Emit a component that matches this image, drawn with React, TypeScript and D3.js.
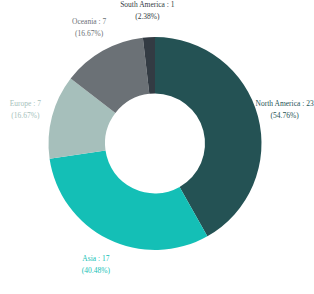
import React, { useEffect, useRef } from 'react';
import * as d3 from 'd3';

const regions = ['North America', 'Asia', 'Europe', 'Oceania', 'South America'];
const counts = [23, 17, 7, 7, 1];
const shares = ['54.76%', '40.48%', '16.67%', '16.67%', '2.38%'];
const colors = ['#245254', '#14bfb6', '#a6bfbb', '#6b7176', '#333b43'];

const App = () => {
  const ref = useRef<SVGSVGElement | null>(null);

  useEffect(() => {
    const svg = d3.select(ref.current);
    svg.selectAll('*').remove();

    const cx = 155;
    const cy = 143.5;
    const rows = regions.map((r, i) => ({ name: r, value: counts[i], share: shares[i], color: colors[i] }));

    const pie = d3.pie<any>().value(d => d.value).sort(null);
    const arc = d3.arc<any>().innerRadius(50).outerRadius(106.5);
    const labelArc = d3.arc<any>().innerRadius(134).outerRadius(134);

    const g = svg.append('g').attr('transform', `translate(${cx},${cy})`);
    const arcs = pie(rows);

    g.selectAll('path')
      .data(arcs)
      .join('path')
      .attr('d', arc)
      .attr('fill', d => d.data.color);

    const labels = g.selectAll('text')
      .data(arcs)
      .join('text')
      .attr('transform', d => `translate(${labelArc.centroid(d)})`)
      .attr('text-anchor', 'middle')
      .attr('fill', d => d.data.color)
      .style('font-family', '"Liberation Serif", "Times New Roman", serif')
      .style('font-size', '7.5px');

    labels.append('tspan')
      .attr('x', 0)
      .attr('dy', '-3')
      .text(d => `${d.data.name} : ${d.data.value}`);

    labels.append('tspan')
      .attr('x', 0)
      .attr('dy', '11.8')
      .text(d => `(${d.data.share})`);
  }, []);

  return (
    <svg
      ref={ref}
      width={314}
      height={294}
      style={{ position: 'absolute', left: 0, top: 0, background: '#fff' }}
    />
  );
};

export default App;
